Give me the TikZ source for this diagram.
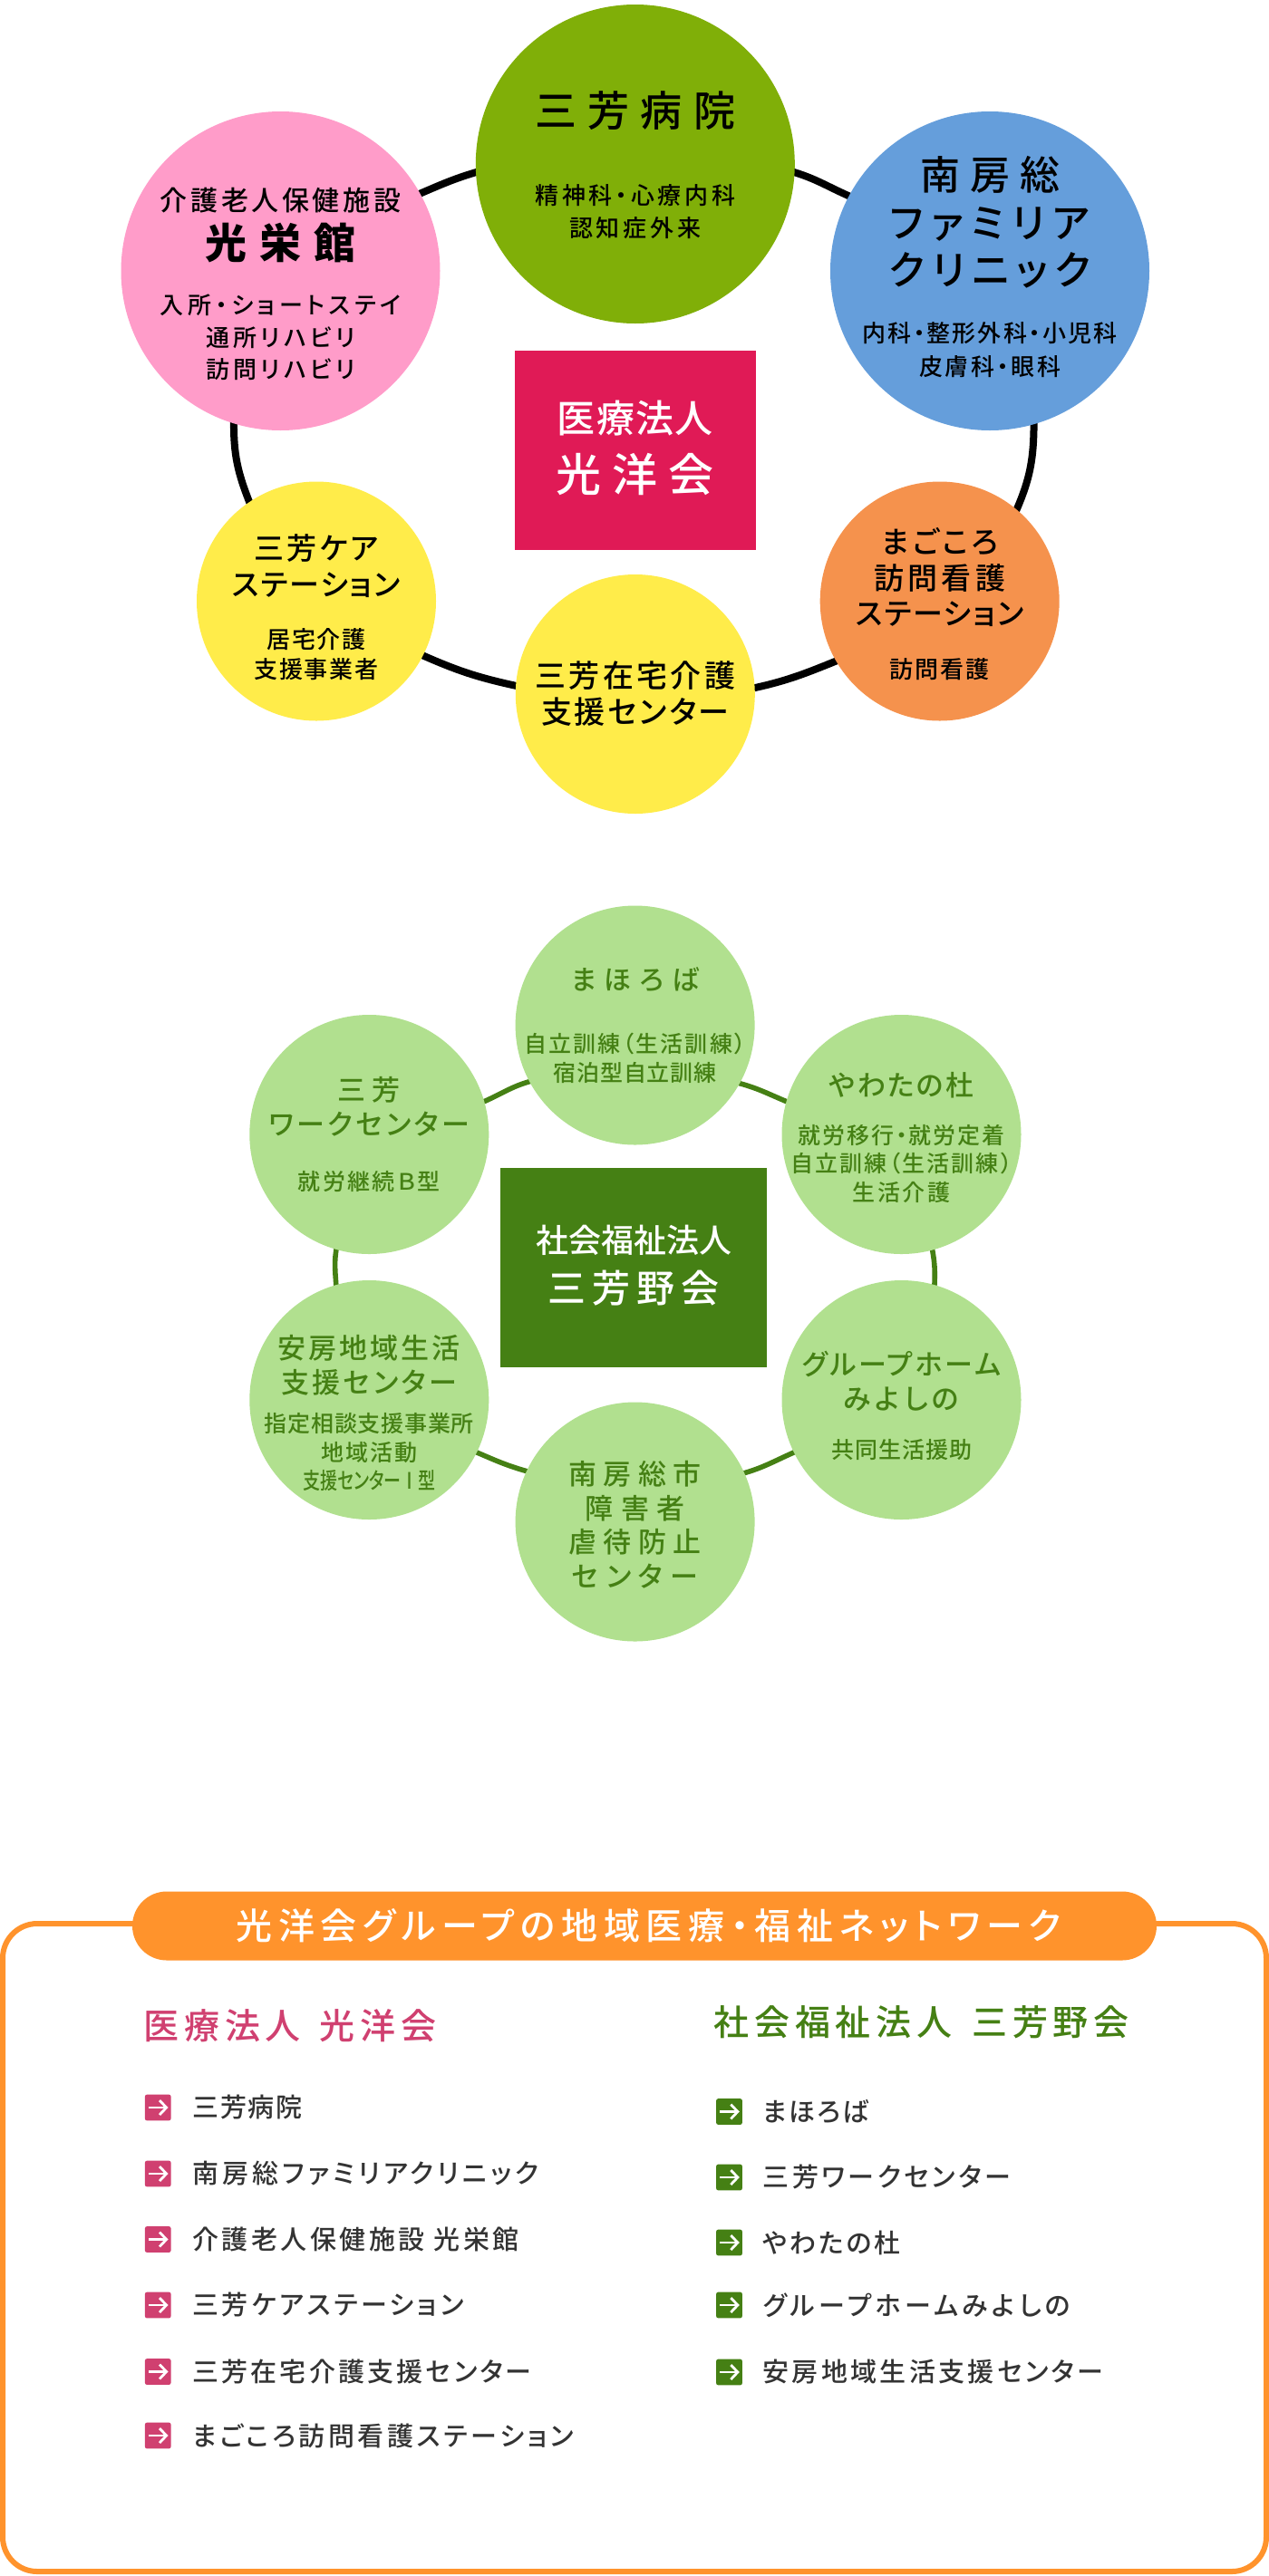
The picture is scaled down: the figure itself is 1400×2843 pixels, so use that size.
\documentclass[tikz,border=0pt]{standalone}
\usepackage{fontspec}
\usepackage{tikz}
\usetikzlibrary{positioning,backgrounds,arrows.meta}
\setmainfont{Noto Sans CJK JP}[RawFeature=+palt]
\newfontfamily\mdfont{Noto Sans CJK JP Medium}[RawFeature=+palt]
\definecolor{hospgreen}{HTML}{80AF08}
\definecolor{carepink}{HTML}{FF9CC9}
\definecolor{clinicblue}{HTML}{659EDB}
\definecolor{medred}{HTML}{E01A56}
\definecolor{sunyellow}{HTML}{FFEC4A}
\definecolor{nurseorange}{HTML}{F5924D}
\definecolor{leafgreen}{HTML}{B1E08F}
\definecolor{welfgreen}{HTML}{458014}
\definecolor{netorange}{HTML}{FF932C}
\definecolor{listpink}{HTML}{D04070}
\definecolor{rowgray}{HTML}{333333}
\newcommand{\trk}[2]{{\addfontfeature{LetterSpace=#1}#2}}
\tikzset{
    bighub/.style={circle, inner sep=0pt, minimum size=176pt},
    smallhub/.style={circle, inner sep=0pt, minimum size=132pt},
    lbl/.style 2 args={inner sep=0pt, align=center, font=\mdfont\fontsize{#1}{#2}\selectfont},
    boldlbl/.style 2 args={inner sep=0pt, align=center, font=\bfseries\fontsize{#1}{#2}\selectfont},
    blackring/.style={black, line width=4pt, shorten <=-3pt, shorten >=-3pt},
    greenring/.style={welfgreen, line width=2.8pt, shorten <=-3pt, shorten >=-3pt},
    corpbox/.style={rectangle, inner sep=0pt},
    rowicon/.style={rectangle, rounded corners=1pt, inner sep=0pt, minimum size=14.3pt,
        path picture={\draw[white, line width=1.4pt, -{Straight Barb[length=3.8pt,width=8pt]}]
            ([xshift=2pt]path picture bounding box.west) -- ([xshift=-1.5pt]path picture bounding box.east);}},
    rowtxt/.style={on grid=false, inner sep=0pt, text=rowgray, font=\mdfont\fontsize{14.5}{14.5}\selectfont},
    headtxt/.style={anchor=west, inner sep=0pt, font=\mdfont\fontsize{19.5}{19.5}\selectfont}
}
\begin{document}
\begin{tikzpicture}[x=0.5pt, y=-0.5pt, node distance=40pt, on grid]
                \useasboundingbox (0,0) rectangle (1400,2843);

                \node[bighub, fill=hospgreen] (hospital) at (700.8,181) {};
                \node[bighub, fill=carepink] (koeikan) [below left=59pt and 195.65pt of hospital] {};
                \node[bighub, fill=clinicblue] (clinic) [below right=59pt and 195.6pt of hospital] {};
                \node[corpbox, fill=medred, minimum width=133pt, minimum height=110pt] (medcorp) [below=158pt of hospital] {};
                \node[smallhub, fill=sunyellow] (carest) [below right=182.25pt and 19.75pt of koeikan] {};
                \node[smallhub, fill=sunyellow] (zaitaku) [below=292.5pt of hospital] {};
                \node[smallhub, fill=nurseorange] (nursest) [below left=182.25pt and 27.65pt of clinic] {};

                \begin{scope}[on background layer]
                    \draw[blackring] (hospital.183) to[out=196,in=23] (koeikan.29);
                    \draw[blackring] (hospital.-3) to[out=-16,in=157] (clinic.152);
                    \draw[blackring] (koeikan.253) to[out=269,in=112] (carest.124);
                    \draw[blackring] (clinic.-74) to[out=-90,in=66] (nursest.50);
                    \draw[blackring] (carest.-27) to[out=-24,in=168] (zaitaku.176);
                    \draw[blackring] (zaitaku.3) to[out=12,in=202] (nursest.210);
                \end{scope}

                \node[lbl={23}{23}] (hospitala) [above=29.5pt of hospital] {\trk{27}{三芳病院}};
                \node[lbl={13}{18}] (hospitalb) [below=26.5pt of hospital] {\trk{14}{精神科・心療内科}\\\trk{15}{認知症外来}};
                \node[lbl={15}{15}] (koeikana) [above=39pt of koeikan] {\trk{12}{介護老人保健施設}};
                \node[boldlbl={23}{23}] (koeikanb) [above=15.5pt of koeikan] {\trk{30}{光栄館}};
                \node[lbl={13}{17.75}] (koeikanc) [below=36.75pt of koeikan] {\trk{18}{入所・ショートステイ}\\\trk{16}{通所リハビリ}\\\trk{16}{訪問リハビリ}};
                \node[lbl={22}{26.25}] (clinica) [above=26.75pt of clinic] {\trk{25}{南房総}\\\trk{20}{ファミリア}\\\trk{18}{クリニック}};
                \node[lbl={13}{18.5}] (clinicb) [below=43.75pt of clinic] {\trk{8}{内科・整形外科・小児科}\\\trk{10}{皮膚科・眼科}};
                \node[lbl={21}{21}, text=white] (medcorpa) [above=17.5pt of medcorp] {\trk{3}{医療法人}};
                \node[lbl={25}{25}, text=white] (medcorpb) [below=13.5pt of medcorp] {\trk{24}{光洋会}};
                \node[lbl={16.5}{20}] (caresta) [above=19.5pt of carest] {\trk{9}{三芳ケア}\\\trk{6}{ステーション}};
                \node[lbl={13}{16.5}] (carestb) [below=29.25pt of carest] {\trk{7}{居宅介護}\\\trk{7}{支援事業者}};
                \node[lbl={17}{20}] (zaitakua) [at=(zaitaku)] {\trk{10}{三芳在宅介護}\\\trk{8}{支援センター}};
                \node[lbl={16.5}{19.75}] (nursesta) [above=13.25pt of nursest] {\trk{11}{まごころ}\\\trk{13}{訪問看護}\\\trk{6}{ステーション}};
                \node[lbl={13}{13}] (nursestb) [below=37.5pt of nursest] {\trk{7}{訪問看護}};

                \node[smallhub, fill=leafgreen] (mahoroba) at (700.6,1131.5) {};
                \node[smallhub, fill=leafgreen] (workctr) [below left=60.25pt and 146.65pt of mahoroba] {};
                \node[smallhub, fill=leafgreen] (yawata) [below right=60.25pt and 146.95pt of mahoroba] {};
                \node[corpbox, fill=welfgreen, minimum width=146.7pt, minimum height=110pt] (welfcorp) [below left=133.75pt and 0.8pt of mahoroba] {};
                \node[smallhub, fill=leafgreen] (awa) [below=146.5pt of workctr] {};
                \node[smallhub, fill=leafgreen] (miyoshino) [below=146.5pt of yawata] {};
                \node[smallhub, fill=leafgreen] (boshi) [below=274pt of mahoroba] {};

                \begin{scope}[on background layer]
                    \draw[greenring] (mahoroba.208) to[out=194,in=22] (workctr.16);
                    \draw[greenring] (mahoroba.-29) to[out=-14,in=158] (yawata.164);
                    \draw[greenring] (workctr.254) to[out=259,in=93] (awa.106);
                    \draw[greenring] (yawata.-75) to[out=-79,in=87] (miyoshino.74);
                    \draw[greenring] (awa.-26) to[out=-23,in=165] (boshi.155);
                    \draw[greenring] (boshi.24) to[out=15,in=203] (miyoshino.206);
                \end{scope}

                \node[lbl={15}{15}, text=welfgreen] (mahorobaa) [above=25.25pt of mahoroba] {\trk{30}{まほろば}};
                \node[lbl={12.5}{15.75}, text=welfgreen] (mahorobab) [below=18.25pt of mahoroba] {\trk{8.5}{自立訓練（生活訓練）}\\\trk{3.6}{宿泊型自立訓練}};
                \node[lbl={15.5}{18.75}, text=welfgreen] (workctra) [above=15.5pt of workctr] {\trk{22}{三芳}\\\trk{11}{ワークセンター}};
                \node[lbl={12.5}{12.5}, text=welfgreen] (workctrb) [below=26pt of workctr] {\trk{9}{就労継続Ｂ型}};
                \node[lbl={15.5}{15.5}, text=welfgreen] (yawataa) [above=27.25pt of yawata] {\trk{7}{やわたの杜}};
                \node[lbl={12.5}{15.75}, text=welfgreen] (yawatab) [below=16pt of yawata] {\trk{7.5}{就労移行・就労定着}\\\trk{8.5}{自立訓練（生活訓練）}\\\trk{11}{生活介護}};
                \node[lbl={15.5}{19}, text=welfgreen] (awaa) [above=19pt of awa] {\trk{9.5}{安房地域生活}\\\trk{11}{支援センター}};
                \node[lbl={12.5}{15.75}, text=welfgreen] (awab) [below=29pt of awa] {\trk{3}{指定相談支援事業所}\\\trk{8}{地域活動}\\\scalebox{0.76}[1]{支援センターⅠ型}};
                \node[lbl={15.5}{19}, text=welfgreen] (miyoshinoa) [above=10.25pt of miyoshino] {\trk{9}{グループホーム}\\\trk{15}{みよしの}};
                \node[lbl={12.5}{12.5}, text=welfgreen] (miyoshinob) [below=27.5pt of miyoshino] {\trk{4}{共同生活援助}};
                \node[lbl={15.5}{18.8}, text=welfgreen] (boshia) [below=1.5pt of boshi] {\trk{24}{南房総市}\\\trk{28}{障害者}\\\trk{24}{虐待防止}\\\trk{26}{センター}};
                \node[lbl={18}{18}, text=white] (welfcorpa) [above=15pt of welfcorp] {\trk{0}{社会福祉法人}};
                \node[lbl={21}{21}, text=white] (welfcorpb) [below=11.5pt of welfcorp] {\trk{16}{三芳野会}};

                \node[rectangle, draw=netorange, line width=3pt, rounded corners=19pt, inner sep=0pt,
                    minimum width=697pt, minimum height=357.5pt, fill=white] (netbox) at (700,2480.5) {};
                \node[rectangle, fill=netorange, rounded corners=19pt, inner sep=0pt, minimum width=565pt,
                    minimum height=38pt, lbl={20}{20}, text=white] (nettitle) at (711,2125.5) {\hspace{4.5pt}\trk{16.5}{光洋会グループの地域医療・福祉ネットワーク}};

                \node[headtxt, text=listpink] (medhead) at (158,2236) {\trk{15}{医療法人\ \hspace{3pt}光洋会}};
                \node[headtxt, text=welfgreen] (welfhead) at (787,2232) {\trk{15}{社会福祉法人\ \hspace{3.5pt}三芳野会}};

                \node[rowicon, fill=listpink] (pa) at (174.25,2326) {};
                \node[rowicon, fill=listpink] (pb) [below=36.5pt of pa] {};
                \node[rowicon, fill=listpink] (pc) [below=36.25pt of pb] {};
                \node[rowicon, fill=listpink] (pd) [below=36.25pt of pc] {};
                \node[rowicon, fill=listpink] (pe) [below=36.75pt of pd] {};
                \node[rowicon, fill=listpink] (pf) [below=35.25pt of pe] {};
                \node[rowtxt, right=11.5pt of pa] (pat) {\trk{6}{三芳病院}};
                \node[rowtxt, right=11.5pt of pb] (pbt) {\trk{14}{南房総ファミリアクリニック}};
                \node[rowtxt, right=11.5pt of pc] (pct) {\trk{12}{介護老人保健施設\ 光栄館}};
                \node[rowtxt, right=11.5pt of pd] (pdt) {\trk{12.5}{三芳ケアステーション}};
                \node[rowtxt, right=11.5pt of pe] (pet) {\trk{11}{三芳在宅介護支援センター}};
                \node[rowtxt, right=11.5pt of pf] (pft) {\trk{12.5}{まごころ訪問看護ステーション}};

                \node[rowicon, fill=welfgreen] (ga) at (804.5,2330.5) {};
                \node[rowicon, fill=welfgreen] (gb) [below=36.25pt of ga] {};
                \node[rowicon, fill=welfgreen] (gc) [below=36pt of gb] {};
                \node[rowicon, fill=welfgreen] (gd) [below=34.5pt of gc] {};
                \node[rowicon, fill=welfgreen] (ge) [below=37pt of gd] {};
                \node[rowtxt, right=11pt of ga] (gat) {\trk{8}{まほろば}};
                \node[rowtxt, right=11pt of gb] (gbt) {\trk{12}{三芳ワークセンター}};
                \node[rowtxt, right=11pt of gc] (gct) {\trk{9}{やわたの杜}};
                \node[rowtxt, right=11pt of gd] (gdt) {\trk{15}{グループホームみよしの}};
                \node[rowtxt, right=11pt of ge] (get) {\trk{11.5}{安房地域生活支援センター}};
            \end{tikzpicture}
\end{document}
